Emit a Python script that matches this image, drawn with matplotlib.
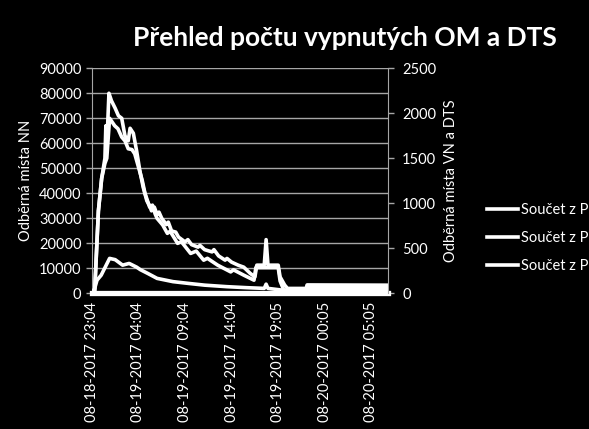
import numpy as np
import matplotlib
matplotlib.use("Agg")
import matplotlib.pyplot as plt

plt.rcParams['font.family'] = ['Lato', 'DejaVu Sans']

# hodiny od prvniho zaznamu (08-18-2017 23:04)
tick_hours = [0, 5, 10, 15, 20, 25, 30]
tick_labels = ['08-18-2017 23:04', '08-19-2017 04:04', '08-19-2017 09:04',
               '08-19-2017 14:04', '08-19-2017 19:05', '08-20-2017 00:05',
               '08-20-2017 05:05']

# serie NN (leva osa)
nn_hours = [0.0, 0.3, 0.7, 1.05, 1.4, 1.5, 1.6, 1.7, 1.83, 2.1, 2.5, 2.85, 3.2,
            3.55, 3.9, 4.1, 4.45, 4.8, 5.15, 5.5, 5.9, 6.2, 6.4, 6.7, 7.0, 7.2,
            7.5, 8.0, 8.2, 8.55, 9.0, 9.3, 10.0, 10.3, 10.7, 11.4, 11.6, 12.1,
            12.9, 13.1, 13.6, 14.3, 14.5, 15.0, 15.7, 16.3, 17.0, 17.5, 17.7,
            18.5, 18.7, 18.9, 20.0, 20.2, 20.7, 21.0, 23.0, 23.1, 31.8]
nn_vals = [0, 1000, 33000, 46000, 54000, 67000, 58000, 68000, 80000, 77000, 74000,
           71000, 70000, 63000, 61000, 66000, 64000, 57000, 49000, 42500, 37000,
           35000, 33000, 34500, 31500, 32500, 30000, 27500, 28500, 25000, 24500,
           22500, 20600, 21500, 19500, 18500, 19200, 17500, 16600, 17500, 15000,
           13300, 14000, 12500, 11300, 10500, 8000, 6600, 11300, 11300, 21500,
           11300, 11300, 6600, 3300, 2000, 2000, 3400, 3300]

# serie VN (prava osa)
vn_hours = [0.0, 0.3, 0.7, 1.05, 1.4, 1.6, 1.9, 2.45, 2.8, 3.2, 3.55, 3.9, 4.3,
            4.6, 5.0, 5.4, 5.7, 6.2, 6.5, 6.8, 7.0, 7.6, 8.1, 8.4, 9.2, 9.6,
            10.6, 11.2, 12.0, 12.4, 13.5, 14.9, 15.2, 16.3, 17.4, 17.6, 20.0,
            20.2, 20.6, 23.1, 23.2, 31.8]
vn_vals = [0, 28, 917, 1278, 1444, 1500, 1944, 1861, 1828, 1736, 1694, 1606, 1597,
           1550, 1403, 1256, 1111, 958, 980, 880, 833, 760, 667, 690, 556, 575,
           444, 470, 369, 390, 314, 239, 262, 203, 147, 286, 286, 139, 36, 36,
           72, 70]

# serie DTS (prava osa)
dts_hours = [0.0, 0.3, 0.55, 1.0, 1.9, 2.5, 3.3, 4.0, 4.8, 5.2, 6.0, 7.0, 8.7,
             10.4, 12.1, 14.5, 16.6, 18.5, 18.7, 18.9, 20.5, 22.0, 23.1, 31.8]
dts_vals = [0, 56, 147, 203, 389, 375, 314, 333, 292, 264, 222, 167, 131, 111,
            92, 75, 64, 56, 103, 56, 36, 28, 45, 44]

zero_hours = [0.0, 31.8]
zero_vals = [0, 0]

fig = plt.figure(figsize=(5.89, 4.29), dpi=100, facecolor='black')
ax = fig.add_axes([0.156, 0.316, 0.503, 0.525])
ax.set_facecolor('black')
ax2 = ax.twinx()

grid_col = '#a6a6a6'
ax.set_ylim(0, 90000)
ax.set_yticks(np.arange(0, 90001, 10000))
ax.yaxis.grid(True, color=grid_col, linewidth=1.0)
ax.set_axisbelow(True)
ax.set_xlim(0, 31.8)
ax.set_xticks(tick_hours)
ax.set_xticklabels(tick_labels, rotation=90)

lw = 2.6
l1, = ax.plot(nn_hours, nn_vals, color='white', lw=lw)
ax2.set_ylim(0, 2500)
ax2.set_yticks(np.arange(0, 2501, 500))
l2, = ax2.plot(vn_hours, vn_vals, color='white', lw=lw)
l3, = ax2.plot(dts_hours, dts_vals, color='white', lw=lw)
ax2.plot(zero_hours, zero_vals, color='white', lw=3.8, clip_on=False)

for a in (ax, ax2):
    for s in a.spines.values():
        s.set_visible(False)
    a.tick_params(colors='white', labelsize=10.5, length=4, width=1)
ax.spines['left'].set_visible(True)
ax.spines['left'].set_color(grid_col)
ax2.spines['right'].set_visible(True)
ax2.spines['right'].set_color(grid_col)
ax.tick_params(axis='y', color=grid_col)
ax2.tick_params(axis='y', color=grid_col, pad=6)
ax.tick_params(axis='x', length=0, labelsize=10.5, pad=6)

ax.set_ylabel('Odběrná místa NN', color='white', fontsize=10.5, labelpad=4)
ax2.set_ylabel('Odběrná místa VN a DTS', color='white', fontsize=10.5,
               labelpad=6)

fig.text(0.586, 0.912, 'Přehled počtu vypnutých OM a DTS', color='white',
         fontsize=19, fontweight='bold', ha='center', va='center')

leg = fig.legend([l1, l2, l3],
                 ['Součet z Počet OM NN', 'Součet z Počet OM VN',
                  'Součet z Počet DTS'],
                 loc='upper left', bbox_to_anchor=(0.817, 0.54),
                 frameon=False, labelcolor='white', fontsize=10.5,
                 handlelength=2.15, handletextpad=0.2, labelspacing=0.95,
                 borderaxespad=0)

fig.savefig('out.png', dpi=100, facecolor='black')
